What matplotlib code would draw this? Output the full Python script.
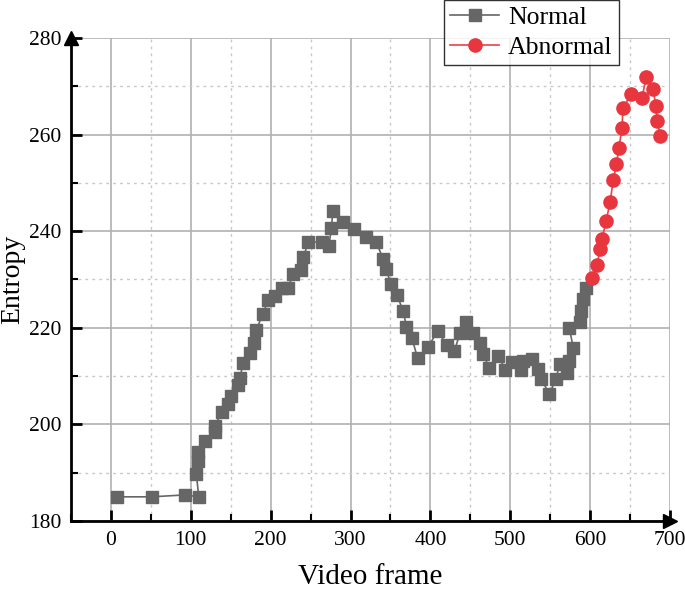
import matplotlib
matplotlib.use("Agg")
import matplotlib.pyplot as plt
from matplotlib.ticker import MultipleLocator

plt.rcParams['font.family'] = ['Liberation Serif', 'DejaVu Serif']

# values
normal_frame = [8, 51, 93, 110, 107, 109, 109, 118, 130, 130, 139, 146, 150, 159,
                162, 165, 174, 179, 182, 190, 197, 206, 214, 222, 228, 238, 241,
                247, 264, 273, 276, 278, 290, 304, 320, 332, 341, 344, 351, 358,
                366, 370, 377, 384, 397, 409, 421, 430, 437, 445, 453, 462, 466,
                474, 485, 494, 502, 513, 516, 527, 535, 539, 549, 557, 562, 571,
                574, 579, 574, 587, 589, 591, 595]
normal_entropy = [185.0, 185.0, 185.4, 185.0, 189.7, 192.4, 194.3, 196.5, 198.4, 199.6,
                  202.6, 204.2, 205.9, 208.1, 209.6, 212.7, 214.8, 216.9, 219.5, 222.8,
                  225.7, 226.5, 228.2, 228.3, 231.1, 232.0, 234.6, 237.7, 237.8, 236.9,
                  240.7, 244.2, 242.0, 240.4, 238.7, 237.8, 234.2, 232.1, 229.1, 226.8,
                  223.5, 220.2, 217.8, 213.7, 216.0, 219.3, 216.4, 215.1, 218.9, 221.1,
                  219.0, 216.8, 214.6, 211.6, 214.2, 211.3, 213.0, 211.3, 213.2, 213.5,
                  211.4, 209.3, 206.3, 209.3, 212.5, 210.7, 213.2, 215.8, 219.9, 221.1,
                  223.5, 225.9, 228.3]

abnormal_frame = [602, 609, 612, 615, 620, 625, 629, 633, 636, 640, 641, 651, 665,
                  670, 679, 682, 684, 688]
abnormal_entropy = [230.4, 233.0, 236.3, 238.4, 242.1, 246.0, 250.6, 253.9, 257.3,
                    261.3, 265.4, 268.3, 267.5, 271.9, 269.4, 266.0, 262.8, 259.6]

fig = plt.figure(figsize=(6.85, 5.95), dpi=100)
ax = fig.add_axes([0.1036, 0.1244, 0.8745, 0.8118])

ax.plot(normal_frame, normal_entropy, color='#666666', linewidth=1.2, marker='s',
        markersize=8.5, markerfacecolor='#666666', markeredgecolor='#666666',
        label='Normal', zorder=3)
ax.plot(abnormal_frame, abnormal_entropy, color='#ee4048', linewidth=1.2, marker='o',
        markersize=9.5, markerfacecolor='#e8363f', markeredgecolor='#e8363f',
        label='Abnormal', zorder=4)

ax.set_xlim(-50, 700)
ax.set_ylim(180, 280)
ax.xaxis.set_major_locator(MultipleLocator(100))
ax.xaxis.set_minor_locator(MultipleLocator(50))
ax.yaxis.set_major_locator(MultipleLocator(20))
ax.yaxis.set_minor_locator(MultipleLocator(10))

ax.grid(True, which='major', color='#b0b0b0', linestyle='-', linewidth=1.2)
ax.grid(True, which='minor', color='#c8c8c8', linestyle=(0, (2, 3)), linewidth=1.0)

for side in ['top', 'right']:
    ax.spines[side].set_visible(False)
for side in ['left', 'bottom']:
    ax.spines[side].set_linewidth(2)
    ax.spines[side].set_color('black')

ax.tick_params(which='major', direction='in', length=8, width=2, labelsize=15.5, pad=7)
ax.tick_params(which='minor', direction='in', length=5, width=1.5)

# arrow heads at axis ends
ax.plot(0, 1, marker='^', color='black', markersize=10, transform=ax.transAxes,
        clip_on=False, zorder=5)
ax.plot(1, 0, marker='>', color='black', markersize=10, transform=ax.transAxes,
        clip_on=False, zorder=5)

ax.set_xlabel('Video frame', fontsize=21, labelpad=10)
ax.set_ylabel('Entropy', fontsize=20)
ax.yaxis.set_label_coords(-0.077, 0.5)

leg = fig.legend(loc='upper left', bbox_to_anchor=(0.648, 1.0), fontsize=18.5,
                 frameon=True, fancybox=False, edgecolor='black', borderaxespad=0,
                 handlelength=1.9, borderpad=0.25, labelspacing=0.25, handletextpad=0.35)
leg.get_frame().set_linewidth(1.0)

fig.savefig('out.png', dpi=100)
